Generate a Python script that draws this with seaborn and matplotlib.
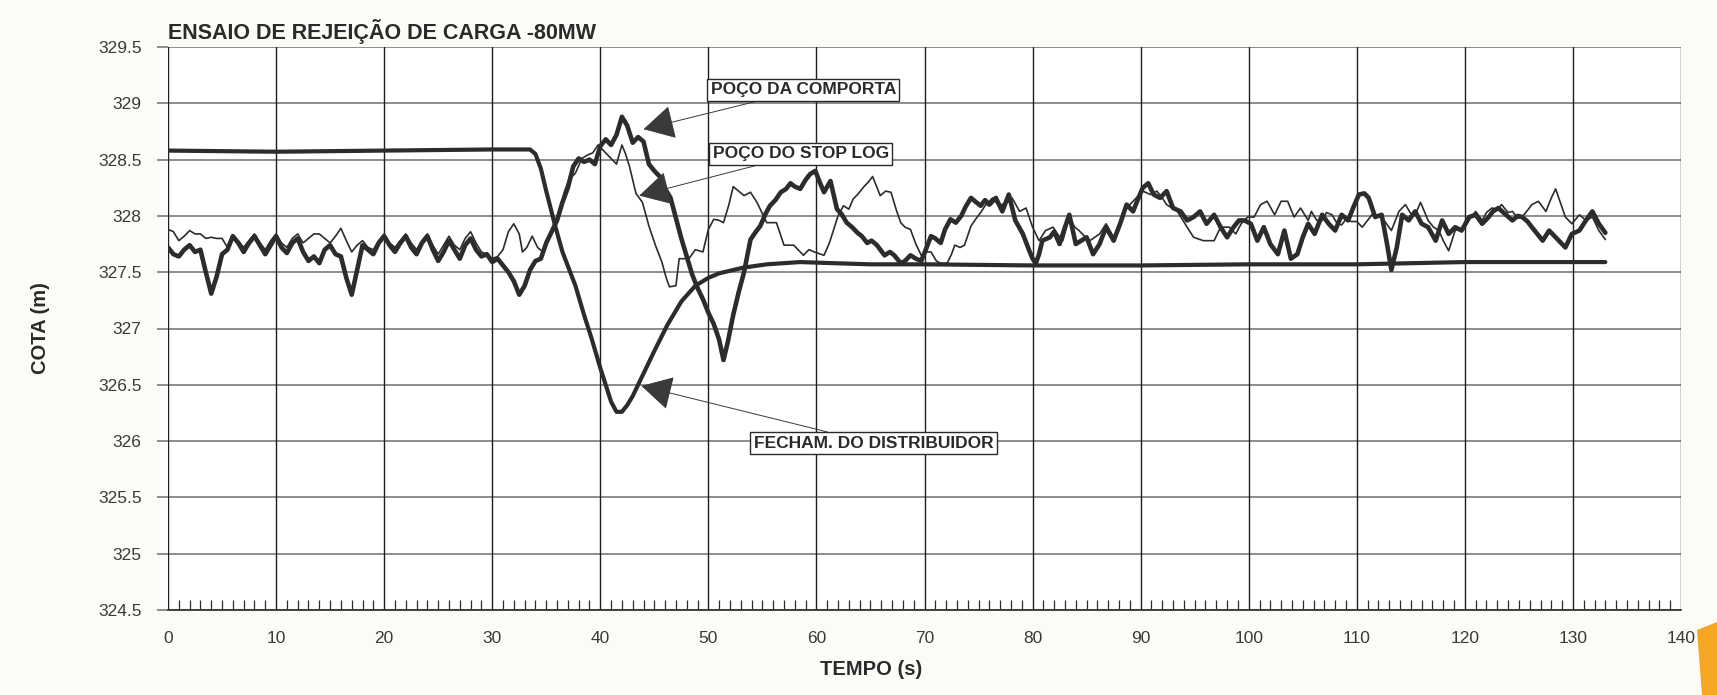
import matplotlib
matplotlib.use("Agg")
import matplotlib.pyplot as plt
import seaborn as sns
import pandas as pd
from matplotlib.patches import Polygon

# ---------------- data ----------------
t_comporta = [0, 0.5, 1.0, 1.5, 2.0, 2.5, 3.0, 3.5, 4.0, 4.5, 5.0, 5.5, 6.0, 6.5, 7.0, 7.5, 8.0, 8.5, 9.0, 9.5,
              10.0, 10.5, 11.0, 11.5, 12.0, 12.5, 13.0, 13.5, 14.0, 14.5, 15.0, 15.5, 16.0, 16.5, 17.0, 17.5, 18.0, 18.5, 19.0, 19.5,
              20.0, 20.5, 21.0, 21.5, 22.0, 22.5, 23.0, 23.5, 24.0, 24.5, 25.0, 25.5, 26.0, 26.5, 27.0, 27.5, 28.0, 28.5, 29.0, 29.5,
              30.0, 30.5, 31.0, 31.5, 32.0, 32.5, 33.0, 33.5, 34.0, 34.5, 35.0, 35.5, 36.0, 36.5, 37.0, 37.5, 38.0, 38.5, 39.0, 39.5,
              40.0, 40.5, 41.0, 41.5, 42.0, 42.5, 43.0, 43.5, 44.0, 44.5, 45.0, 45.5, 46.0, 46.5, 47.0, 47.5, 48.0, 48.5, 49.0, 49.5,
              50.0, 50.5, 51.0, 51.4, 51.8, 52.3, 52.8, 53.3, 53.9, 54.4, 54.8, 55.3, 55.7, 56.2, 56.7, 57.2, 57.6, 58.0, 58.5, 59.0,
              59.4, 59.9, 60.3, 60.7, 61.0, 61.3, 61.9, 62.3, 62.8, 63.3, 63.8, 64.2, 64.7, 65.1, 65.6, 66.3, 66.8, 67.2, 67.8, 68.2,
              68.7, 69.2, 69.7, 70.2, 70.6, 71.0, 71.5, 71.9, 72.4, 72.9, 73.4, 73.8, 74.3, 74.8, 75.2, 75.6, 76.0, 76.6, 77.2, 77.8,
              78.4, 79.1, 79.7, 80.0, 80.3, 80.6, 80.9, 81.6, 82.0, 82.5, 83.0, 83.4, 83.7, 84.0, 84.5, 85.0, 85.6, 86.2, 86.8, 87.5,
              88.1, 88.7, 89.3, 89.8, 90.2, 90.7, 91.2, 91.8, 92.4, 93.0, 93.7, 94.3, 94.9, 95.5, 96.1, 96.8, 97.4, 98.0, 98.6, 99.1,
              99.6, 100.2, 100.8, 101.4, 102.0, 102.7, 103.3, 103.9, 104.5, 105.0, 105.5, 106.1, 106.8, 107.4, 108.0, 108.6, 109.2, 109.7, 110.2, 110.7,
              111.1, 111.7, 112.3, 112.8, 113.2, 113.7, 114.2, 114.8, 115.4, 116.0, 116.6, 117.3, 117.9, 118.5, 119.1, 119.7, 120.4, 121.0, 121.6, 122.2,
              122.6, 123.1, 123.8, 124.4, 124.9, 125.3, 125.8, 126.2, 126.7, 127.2, 127.8, 128.4, 128.9, 129.3, 129.9, 130.6, 131.2, 131.8, 132.4, 133.0]
v_comporta = [327.72, 327.66, 327.64, 327.70, 327.74, 327.68, 327.70, 327.50, 327.31, 327.46, 327.66, 327.70, 327.82, 327.76, 327.68, 327.76, 327.82, 327.74, 327.66, 327.74,
              327.82, 327.72, 327.67, 327.76, 327.80, 327.68, 327.60, 327.64, 327.58, 327.70, 327.74, 327.66, 327.64, 327.45, 327.30, 327.52, 327.74, 327.70, 327.66, 327.76,
              327.82, 327.74, 327.68, 327.76, 327.82, 327.72, 327.66, 327.76, 327.82, 327.70, 327.60, 327.68, 327.78, 327.70, 327.62, 327.74, 327.80, 327.70, 327.64, 327.66,
              327.59, 327.62, 327.56, 327.50, 327.42, 327.30, 327.38, 327.52, 327.60, 327.62, 327.76, 327.86, 327.96, 328.12, 328.25, 328.44, 328.51, 328.48, 328.50, 328.46,
              328.62, 328.68, 328.63, 328.72, 328.88, 328.80, 328.65, 328.70, 328.66, 328.46, 328.40, 328.35, 328.24, 328.16, 327.98, 327.80, 327.64, 327.48, 327.36, 327.26,
              327.14, 327.04, 326.90, 326.72, 326.88, 327.12, 327.32, 327.50, 327.79, 327.86, 327.91, 328.02, 328.09, 328.14, 328.21, 328.24, 328.29, 328.26, 328.24, 328.32,
              328.37, 328.40, 328.30, 328.21, 328.26, 328.31, 328.06, 328.02, 327.94, 327.90, 327.85, 327.82, 327.76, 327.78, 327.74, 327.65, 327.68, 327.65, 327.58, 327.60,
              327.65, 327.62, 327.60, 327.72, 327.82, 327.80, 327.76, 327.88, 327.97, 327.94, 328.00, 328.08, 328.16, 328.12, 328.09, 328.14, 328.10, 328.16, 328.04, 328.19,
              327.96, 327.84, 327.69, 327.62, 327.58, 327.66, 327.78, 327.81, 327.86, 327.75, 327.90, 328.01, 327.88, 327.75, 327.78, 327.81, 327.66, 327.75, 327.90, 327.78,
              327.93, 328.10, 328.04, 328.16, 328.25, 328.29, 328.19, 328.16, 328.22, 328.07, 328.04, 327.96, 327.99, 328.04, 327.93, 328.01, 327.90, 327.81, 327.90, 327.96,
              327.96, 327.93, 327.78, 327.90, 327.75, 327.66, 327.87, 327.62, 327.66, 327.81, 327.93, 327.84, 328.01, 327.93, 327.87, 328.01, 327.96, 328.08, 328.19, 328.20,
              328.16, 327.99, 328.01, 327.75, 327.52, 327.72, 328.01, 327.96, 328.04, 327.93, 327.90, 327.78, 327.96, 327.84, 327.90, 327.87, 327.99, 328.01, 327.93, 327.99,
              328.04, 328.07, 328.01, 327.96, 328.00, 327.99, 327.95, 327.90, 327.84, 327.78, 327.87, 327.81, 327.76, 327.72, 327.84, 327.87, 327.96, 328.04, 327.93, 327.85]

t_stoplog = [0, 0.5, 1.0, 1.5, 2.0, 2.5, 3.0, 3.5, 4.0, 4.5, 5.0, 5.5, 6.0, 6.5, 7.0, 7.5, 8.0, 8.5, 9.0, 9.5,
             10.0, 10.5, 11.0, 11.5, 12.0, 12.5, 13.0, 13.5, 14.0, 14.5, 15.0, 15.5, 16.0, 16.5, 17.0, 17.5, 18.0, 18.5, 19.0, 19.5,
             20.0, 20.5, 21.0, 21.5, 22.0, 22.5, 23.0, 23.5, 24.0, 24.5, 25.0, 25.5, 26.0, 26.5, 27.0, 27.5, 28.0, 28.5, 29.0, 29.5,
             30.0, 30.5, 31.0, 31.5, 32.0, 32.5, 32.8, 33.2, 33.7, 34.2, 34.7, 35.2, 35.7, 36.2, 36.7, 37.1, 37.7, 38.3, 38.8, 39.3,
             39.8, 40.3, 40.8, 41.5, 42.0, 42.3, 42.7, 43.3, 43.9, 44.5, 45.1, 45.7, 46.1, 46.4, 47.0, 47.3, 48.2, 48.8, 49.5, 50.0,
             50.5, 51.0, 51.4, 51.9, 52.3, 52.8, 53.3, 53.9, 54.5, 55.0, 55.4, 56.3, 57.0, 57.9, 58.8, 59.3, 59.8, 60.7, 61.2, 61.6,
             62.0, 62.5, 63.0, 63.4, 63.9, 64.4, 64.8, 65.2, 65.9, 66.4, 66.9, 67.4, 67.8, 68.2, 68.7, 69.2, 69.7, 70.2, 70.6, 71.1,
             71.5, 72.1, 72.5, 72.8, 73.3, 73.7, 74.3, 74.8, 75.2, 75.6, 76.3, 76.8, 77.2, 77.7, 78.1, 78.8, 79.4, 80.0, 80.6, 81.2,
             81.9, 82.3, 82.8, 83.4, 83.9, 84.3, 84.8, 85.3, 86.2, 86.8, 87.5, 88.0, 88.4, 89.3, 90.2, 90.9, 91.5, 92.0, 92.4, 93.4,
             94.3, 94.9, 95.8, 96.8, 97.4, 98.2, 98.8, 99.3, 99.9, 100.5, 101.1, 101.7, 102.4, 103.0, 103.6, 104.2, 104.8, 105.5, 105.8, 106.3,
             106.8, 107.2, 107.7, 108.2, 108.6, 109.0, 109.5, 110.0, 110.5, 111.0, 111.4, 112.3, 113.2, 113.9, 114.5, 115.0, 115.4, 115.9, 116.6, 117.1,
             117.6, 118.0, 118.5, 119.1, 120.0, 120.5, 121.0, 121.6, 122.0, 122.5, 123.0, 123.4, 124.0, 124.4, 124.9, 125.3, 125.8, 126.2, 126.8, 127.5,
             128.0, 128.4, 128.9, 129.3, 129.9, 130.6, 131.2, 131.8, 132.4, 133.0]
v_stoplog = [327.88, 327.86, 327.78, 327.82, 327.87, 327.84, 327.84, 327.80, 327.81, 327.80, 327.80, 327.72, 327.82, 327.78, 327.72, 327.78, 327.84, 327.76, 327.70, 327.78,
             327.84, 327.76, 327.72, 327.80, 327.84, 327.76, 327.80, 327.84, 327.84, 327.80, 327.76, 327.82, 327.89, 327.78, 327.68, 327.74, 327.78, 327.72, 327.70, 327.78,
             327.84, 327.76, 327.72, 327.78, 327.84, 327.76, 327.70, 327.78, 327.84, 327.74, 327.66, 327.74, 327.82, 327.74, 327.70, 327.80, 327.86, 327.76, 327.68, 327.66,
             327.62, 327.64, 327.70, 327.86, 327.93, 327.84, 327.68, 327.72, 327.82, 327.72, 327.68, 327.78, 327.90, 328.05, 328.22, 328.32, 328.38, 328.51, 328.54, 328.56,
             328.63, 328.58, 328.53, 328.46, 328.63, 328.56, 328.44, 328.20, 328.12, 327.91, 327.74, 327.59, 327.45, 327.37, 327.38, 327.62, 327.62, 327.70, 327.68, 327.88,
             327.97, 327.96, 327.94, 328.10, 328.26, 328.22, 328.18, 328.21, 328.12, 328.02, 327.94, 327.94, 327.74, 327.74, 327.65, 327.70, 327.68, 327.65, 327.76, 327.88,
             328.00, 328.09, 328.06, 328.15, 328.20, 328.26, 328.30, 328.35, 328.18, 328.22, 328.21, 328.05, 327.94, 327.90, 327.88, 327.75, 327.65, 327.68, 327.68, 327.60,
             327.58, 327.58, 327.66, 327.74, 327.72, 327.74, 327.91, 327.98, 328.03, 328.09, 328.16, 328.10, 328.10, 328.14, 328.16, 328.04, 328.07, 327.90, 327.78, 327.87,
             327.90, 327.84, 327.78, 327.99, 327.90, 327.87, 327.82, 327.78, 327.84, 327.93, 327.81, 327.90, 328.04, 328.13, 328.22, 328.19, 328.22, 328.16, 328.10, 328.04,
             327.90, 327.81, 327.78, 327.78, 327.90, 327.90, 327.84, 327.93, 327.99, 327.99, 328.10, 328.13, 328.01, 328.13, 328.13, 327.99, 328.07, 327.96, 328.04, 327.96,
             327.96, 328.03, 328.01, 327.93, 327.92, 327.97, 327.95, 327.95, 327.90, 327.96, 328.01, 327.99, 327.87, 328.04, 328.10, 328.02, 328.01, 328.12, 327.96, 327.90,
             327.87, 327.78, 327.69, 327.87, 327.90, 327.98, 328.04, 327.96, 328.03, 328.07, 328.06, 328.10, 328.03, 328.04, 327.98, 327.99, 328.05, 328.10, 328.13, 328.04,
             328.16, 328.24, 328.10, 327.99, 327.93, 328.01, 327.96, 327.99, 327.87, 327.79]

t_distrib = [0, 10, 20, 30, 33.5, 34.0, 34.5, 35.0, 35.8, 36.5, 37.7, 38.5, 39.2, 40.0, 40.5, 41.0, 41.5, 42.0, 42.5, 43.0,
             43.8, 45.0, 46.2, 47.5, 48.8, 50.0, 51.0, 53.2, 55.4, 58.5, 61.6, 65, 70, 80, 90, 100, 110, 115, 120, 133]
v_distrib = [328.58, 328.57, 328.58, 328.59, 328.59, 328.55, 328.42, 328.22, 327.92, 327.68, 327.38, 327.12, 326.91, 326.65, 326.50, 326.35, 326.26, 326.26, 326.32, 326.40,
             326.56, 326.80, 327.03, 327.24, 327.38, 327.45, 327.49, 327.54, 327.57, 327.59, 327.58, 327.57, 327.57, 327.56, 327.56, 327.57, 327.57, 327.58, 327.59, 327.59]

x_ticks = [0, 10, 20, 30, 40, 50, 60, 70, 80, 90, 100, 110, 120, 130, 140]
y_ticks = [324.5, 325, 325.5, 326, 326.5, 327, 327.5, 328, 328.5, 329, 329.5]
y_ticklabels = ["324.5", "325", "325.5", "326", "326.5", "327", "327.5", "328", "328.5", "329", "329.5"]

title = "ENSAIO DE REJEIÇÃO DE CARGA -80MW"
xlabel = "TEMPO (s)"
ylabel = "COTA (m)"
lab_comporta = "POÇO DA COMPORTA"
lab_stoplog = "POÇO DO STOP LOG"
lab_distrib = "FECHAM. DO DISTRIBUIDOR"

# ---------------- plotting ----------------
sns.set_theme(style="white")
plt.rcParams["font.family"] = ["Liberation Sans", "DejaVu Sans"]

LINE = "#2c2c2c"
fig = plt.figure(figsize=(17.17, 6.95), dpi=100, facecolor="#fcfbf7")
ax = fig.add_axes([168 / 1717, 85 / 695, 1513 / 1717, 563 / 695])
ax.set_facecolor("white")

df_c = pd.DataFrame({"t": t_comporta, "v": v_comporta})
df_s = pd.DataFrame({"t": t_stoplog, "v": v_stoplog})
df_d = pd.DataFrame({"t": t_distrib, "v": v_distrib})

sns.lineplot(data=df_d, x="t", y="v", ax=ax, color=LINE, lw=3.0, sort=False, estimator=None, zorder=4)
sns.lineplot(data=df_s, x="t", y="v", ax=ax, color=LINE, lw=1.2, sort=False, estimator=None, zorder=5)
sns.lineplot(data=df_c, x="t", y="v", ax=ax, color=LINE, lw=3.3, sort=False, estimator=None, zorder=6)

ax.set_xlim(0, 140)
ax.set_ylim(324.5, 329.5)
ax.set_xticks(x_ticks)
ax.set_xticks(range(0, 141), minor=True)
ax.set_yticks(y_ticks)
ax.set_yticklabels(y_ticklabels)

ax.grid(False)
for yv in y_ticks:
    ax.axhline(yv, color="#8c8c8c", lw=1.4, zorder=1)
for xv in x_ticks:
    ax.axvline(xv, color="#1e1e1e", lw=1.0, zorder=1)

for side in ["left", "right", "top"]:
    ax.spines[side].set_visible(False)
ax.spines["bottom"].set_color("#2a2a2a")
ax.spines["bottom"].set_linewidth(1.2)

ax.tick_params(axis="x", which="major", direction="out", length=7, width=1.0, color="#2a2a2a",
               labelsize=12.5, labelcolor="#3a3a3a", pad=8)
ax.tick_params(axis="x", which="minor", direction="in", length=7, width=0.9, color="#2a2a2a", bottom=True)
ax.tick_params(axis="y", which="major", direction="out", length=8, width=1.4, color="#8c8c8c",
               labelsize=12.5, labelcolor="#3a3a3a", pad=11, left=True)

ax.set_xlabel(xlabel, fontsize=14.5, fontweight="bold", color="#2a2a2a")
ax.xaxis.set_label_coords(0.465, -0.088)
ax.set_ylabel(ylabel, fontsize=14.5, fontweight="bold", color="#2a2a2a")
ax.yaxis.set_label_coords(-0.078, 0.50)

fig.text(168 / 1717, 1 - 31 / 695, title, fontsize=15.5, fontweight="bold", color="#2a2a2a",
         ha="left", va="center")

box = dict(boxstyle="square,pad=0.2", fc="white", ec="#2a2a2a", lw=1.0)
arrow = dict(arrowstyle="-|>,head_length=1.0,head_width=0.55", mutation_scale=20, lw=0.7,
             color="#3a3a3a", shrinkA=0, shrinkB=0)

ax.annotate(lab_comporta, xy=(44.0, 328.77), xytext=(50.2, 329.12), fontsize=12.5, fontweight="bold",
            color="#2a2a2a", ha="left", va="center", bbox=box, arrowprops=arrow, zorder=8)
ax.annotate(lab_stoplog, xy=(43.6, 328.18), xytext=(50.4, 328.55), fontsize=12.5, fontweight="bold",
            color="#2a2a2a", ha="left", va="center", bbox=box, arrowprops=arrow, zorder=8)
ax.annotate(lab_distrib, xy=(43.8, 326.49), xytext=(54.2, 325.98), fontsize=12.5, fontweight="bold",
            color="#2a2a2a", ha="left", va="center", bbox=box, arrowprops=arrow, zorder=8)

# orange slide tab in the bottom-right corner
fig.patches.append(Polygon([[1697 / 1717, 1 - 630 / 695], [1717 / 1717, 1 - 622 / 695],
                            [1717 / 1717, 0], [1702 / 1717, 0]],
                           closed=True, transform=fig.transFigure, fc="#f5a623", ec="none"))

fig.savefig("out.png", dpi=100, facecolor=fig.get_facecolor())
